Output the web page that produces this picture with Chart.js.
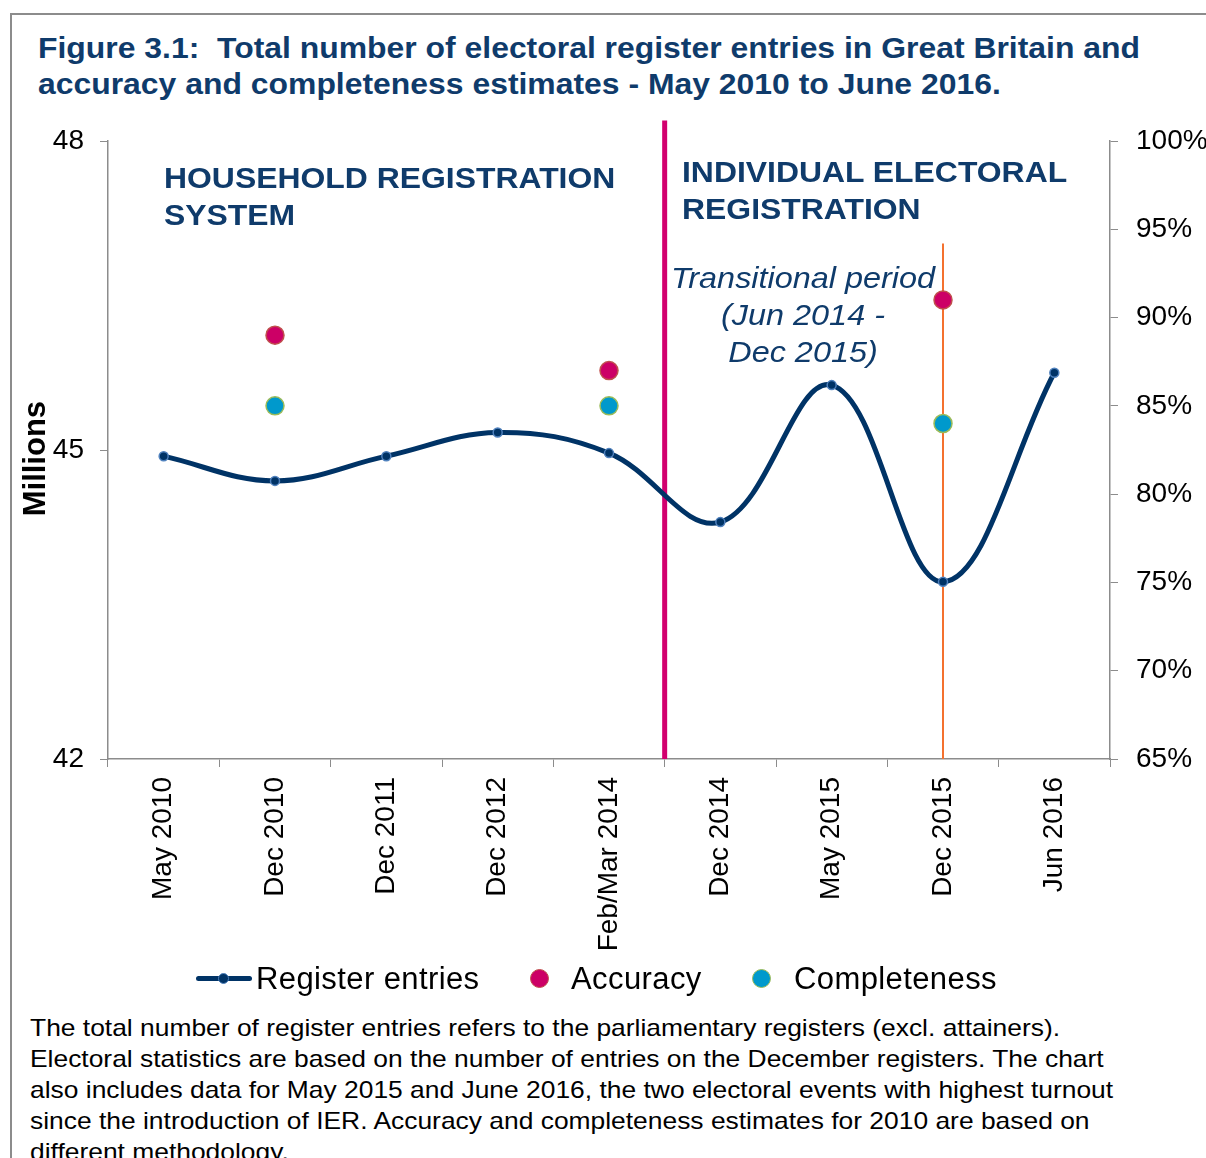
<!DOCTYPE html>
<html>
<head>
<meta charset="utf-8">
<script src="https://cdn.jsdelivr.net/npm/chart.js@4.4.1/dist/chart.umd.min.js"></script>
<style>
  body { margin: 0; width: 1206px; height: 1158px; overflow: hidden; background: #fff;
         font-family: "Liberation Sans", Arial, sans-serif; }
  #frame { position: absolute; left: 10px; top: 13px; width: 1300px; height: 1300px;
           border-left: 2px solid #8c8c8c; border-top: 2px solid #8c8c8c; }
  .wide { transform: scaleX(1.1); transform-origin: 0 0; }
  #title { position: absolute; left: 38px; top: 30px; font-weight: bold; font-size: 29px;
           line-height: 36px; color: #0f3b6b; white-space: nowrap; }
  #chart { position: absolute; left: 0; top: 0; }
  .region { position: absolute; font-weight: bold; font-size: 29px; line-height: 37px;
            color: #0f3b6b; white-space: nowrap; }
  #transition { position: absolute; left: 653px; top: 259px; width: 300px; text-align: center;
                font-style: italic; font-size: 30px; line-height: 37px; color: #0f3b6b;
                transform: scaleX(1.08); }
  #legend { position: absolute; left: 0; top: 958px; height: 42px; font-size: 31px; color: #000;
            letter-spacing: 0.4px; }
  #legend span { position: absolute; top: 0; line-height: 42px; white-space: nowrap; }
  .dot { position: absolute; width: 17px; height: 17px; border-radius: 50%; }
  #footer { position: absolute; left: 30px; top: 1012px; font-size: 24px; line-height: 31px;
            color: #000; white-space: nowrap; }
</style>
</head>
<body>
<div id="frame"></div>
<div id="title" class="wide">Figure 3.1:&nbsp; Total number of electoral register entries in Great Britain and<br>accuracy and completeness estimates - May 2010 to June 2016.</div>
<canvas id="chart" width="1206" height="1000"></canvas>
<div class="region wide" style="left:164px; top:160px;">HOUSEHOLD REGISTRATION<br>SYSTEM</div>
<div class="region wide" style="left:682px; top:154px;">INDIVIDUAL ELECTORAL<br>REGISTRATION</div>
<div id="transition">Transitional period<br>(Jun 2014 -<br>Dec 2015)</div>
<div id="legend">
  <div style="position:absolute; left:196px; top:18px; width:56px; height:5px; background:#003366; border-radius:3px;"></div>
  <div class="dot" style="left:218px; top:15px; width:9px; height:9px; background:#003366; border:1.5px solid #4f81bd;"></div>
  <span style="left:256px;">Register entries</span>
  <div class="dot" style="left:530px; top:11px; background:#cc0066; border:1.5px solid #c0504d;"></div>
  <span style="left:571px;">Accuracy</span>
  <div class="dot" style="left:752px; top:11px; background:#0099cc; border:1.5px solid #9bbb59;"></div>
  <span style="left:794px;">Completeness</span>
</div>
<div id="footer" class="wide">The total number of register entries refers to the parliamentary registers (excl. attainers).<br>Electoral statistics are based on the number of entries on the December registers. The chart<br>also includes data for May 2015 and June 2016, the two electoral events with highest turnout<br>since the introduction of IER. Accuracy and completeness estimates for 2010 are based on<br>different methodology.</div>

<script>
const periods = ['May 2010', 'Dec 2010', 'Dec 2011', 'Dec 2012', 'Feb/Mar 2014',
                 'Dec 2014', 'May 2015', 'Dec 2015', 'Jun 2016'];
// register entries, millions
const registerEntries = [44.94, 44.70, 44.94, 45.17, 44.97, 44.30, 45.63, 43.72, 45.75];
// accuracy / completeness estimates, %
const accuracy = [null, 89, null, null, 87, null, null, 91, null];
const completeness = [null, 85, null, null, 85, null, null, 84, null];

const leftTicks = [42, 45, 48];
const rightTicks = [65, 70, 75, 80, 85, 90, 95, 100];

// where the HRS / IER divider sits (between Feb/Mar 2014 and Dec 2014)
const ierStart = 4.5;
const ierStartTop = 48.2;
// Dec 2015 marker line
const markerIndex = 7;
const markerTop = 94.2;

const axisGrey = '#8c8c8c';
const tickFont = { family: '"Liberation Sans", Arial, sans-serif', size: 28 };

const dividerLines = {
    id: 'dividerLines',
    beforeDatasetsDraw(chart) {
        const ctx = chart.ctx;
        const x = chart.scales.x;
        const y = chart.scales.y;
        const y1 = chart.scales.y1;
        const bottom = chart.chartArea.bottom;

        ctx.save();
        ctx.strokeStyle = '#d2006e';
        ctx.lineWidth = 5;
        ctx.beginPath();
        ctx.moveTo(x.getPixelForValue(ierStart), y.getPixelForValue(ierStartTop));
        ctx.lineTo(x.getPixelForValue(ierStart), bottom);
        ctx.stroke();

        ctx.strokeStyle = '#f4712f';
        ctx.lineWidth = 2;
        ctx.beginPath();
        ctx.moveTo(x.getPixelForValue(markerIndex), y1.getPixelForValue(markerTop));
        ctx.lineTo(x.getPixelForValue(markerIndex), bottom);
        ctx.stroke();
        ctx.restore();
    }
};

const ctx = document.getElementById('chart').getContext('2d');
new Chart(ctx, {
    type: 'line',
    data: {
        labels: periods,
        datasets: [
            {
                label: 'Register entries',
                data: registerEntries,
                yAxisID: 'y',
                borderColor: '#003366',
                borderWidth: 5,
                tension: 0.38,
                pointRadius: 4.5,
                pointBackgroundColor: '#003366',
                pointBorderColor: '#4f81bd',
                pointBorderWidth: 1.5,
                fill: false,
                order: 2
            },
            {
                label: 'Accuracy',
                data: accuracy,
                yAxisID: 'y1',
                showLine: false,
                pointRadius: 9,
                pointBackgroundColor: '#cc0066',
                pointBorderColor: '#c0504d',
                pointBorderWidth: 1.5,
                order: 1
            },
            {
                label: 'Completeness',
                data: completeness,
                yAxisID: 'y1',
                showLine: false,
                pointRadius: 9,
                pointBackgroundColor: '#0099cc',
                pointBorderColor: '#9bbb59',
                pointBorderWidth: 1.5,
                order: 1
            }
        ]
    },
    options: {
        responsive: false,
        animation: false,
        layout: { padding: { top: 141, bottom: 0, left: 0, right: 0 } },
        plugins: {
            legend: { display: false },
            tooltip: { enabled: false }
        },
        scales: {
            x: {
                offset: true,
                grid: { offset: true, drawOnChartArea: false, color: axisGrey, tickLength: 8 },
                border: { color: axisGrey, width: 1.5 },
                ticks: { color: '#000', font: tickFont, minRotation: 90, maxRotation: 90, padding: 10, autoSkip: false },
                afterFit: s => { s.height = 241; }
            },
            y: {
                position: 'left',
                min: 42,
                max: 48,
                afterBuildTicks: s => { s.ticks = leftTicks.map(v => ({ value: v })); },
                grid: { drawOnChartArea: false, color: axisGrey, tickLength: 8 },
                border: { color: axisGrey, width: 1.5 },
                ticks: { color: '#000', font: tickFont, padding: 16 },
                title: {
                    display: true,
                    text: 'Millions\u00a0\u00a0',
                    color: '#000',
                    font: { family: '"Liberation Sans", Arial, sans-serif', size: 31, weight: 'bold' },
                    padding: { top: 18, bottom: 0 }
                },
                afterFit: s => { s.width = 108; }
            },
            y1: {
                position: 'right',
                min: 65,
                max: 100,
                afterBuildTicks: s => { s.ticks = rightTicks.map(v => ({ value: v })); },
                grid: { drawOnChartArea: false, color: axisGrey, tickLength: 8 },
                border: { color: axisGrey, width: 1.5 },
                ticks: { color: '#000', font: tickFont, padding: 18, callback: v => v + '%' },
                afterFit: s => { s.width = 96; }
            }
        }
    },
    plugins: [dividerLines]
});
</script>
</body>
</html>
